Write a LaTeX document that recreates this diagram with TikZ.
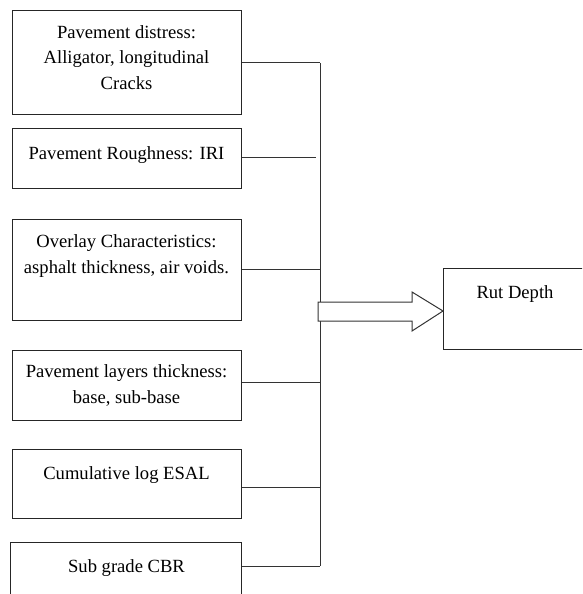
\documentclass[tikz,border=0pt]{standalone}
\usepackage{fontspec}
\setmainfont{Liberation Serif}
\begin{document}
\begin{tikzpicture}[x=1pt,y=-1pt,
  box/.style={draw=black!85,line width=1pt,rectangle,anchor=north west,inner sep=0pt},
  lbl/.style={anchor=base,align=center,font=\fontsize{18.6}{25.5}\selectfont,inner sep=0pt},
  wire/.style={draw=black!80,line width=1pt}]
\useasboundingbox (0,0) rectangle (582,594);
\clip (0,0) rectangle (582,594);
% input boxes
\node[box,minimum width=229pt,minimum height=104pt] (b1) at (12,10) {};
\node[box,minimum width=229pt,minimum height=60pt] (b2) at (12,128) {};
\node[box,minimum width=229pt,minimum height=101pt] (b3) at (12,219) {};
\node[box,minimum width=229pt,minimum height=70pt] (b4) at (12,350) {};
\node[box,minimum width=229pt,minimum height=69pt] (b5) at (12,449) {};
\node[box,minimum width=231pt,minimum height=70pt] (b6) at (10,542) {};
\node[box,minimum width=150pt,minimum height=81pt] (out) at (443,268) {};
% labels (anchored at the baseline of their last line)
\node[lbl] (t1) at (126.5,89) {Pavement distress:\\Alligator, longitudinal\\Cracks};
\node[lbl] (t2) at (126.5,159) {Pavement Roughness: IRI};
\node[lbl] (t3) at (126.5,273) {Overlay Characteristics:\\asphalt thickness, air voids.};
\node[lbl] (t4) at (126.5,403) {Pavement layers thickness:\\base, sub-base};
\node[lbl] (t5) at (126.5,479) {Cumulative log ESAL};
\node[lbl] (t6) at (126.5,572) {Sub grade CBR};
\node[lbl] (t7) at (515,298) {Rut Depth};
% bus
\coordinate (bustop) at (320,63);
\coordinate (busbot) at (320,566);
\draw[wire] (bustop) -- (busbot);
\draw[wire] (b1.east |- bustop) -- (bustop);
\draw[wire] (b2.east |- 0,157) -- (316,157);
\draw[wire] (b3.east |- 0,269) -- (320,269);
\draw[wire] (b4.east |- 0,382) -- (320,382);
\draw[wire] (b5.east |- 0,487) -- (320,487);
\draw[wire] (b6.east |- busbot) -- (busbot);
% block arrow
\draw[wire,fill=white] (318,302) -- (412,302) -- (412,292) -- (out.west |- 0,311) -- (412,331) -- (412,321) -- (318,321) -- cycle;
\end{tikzpicture}
\end{document}
